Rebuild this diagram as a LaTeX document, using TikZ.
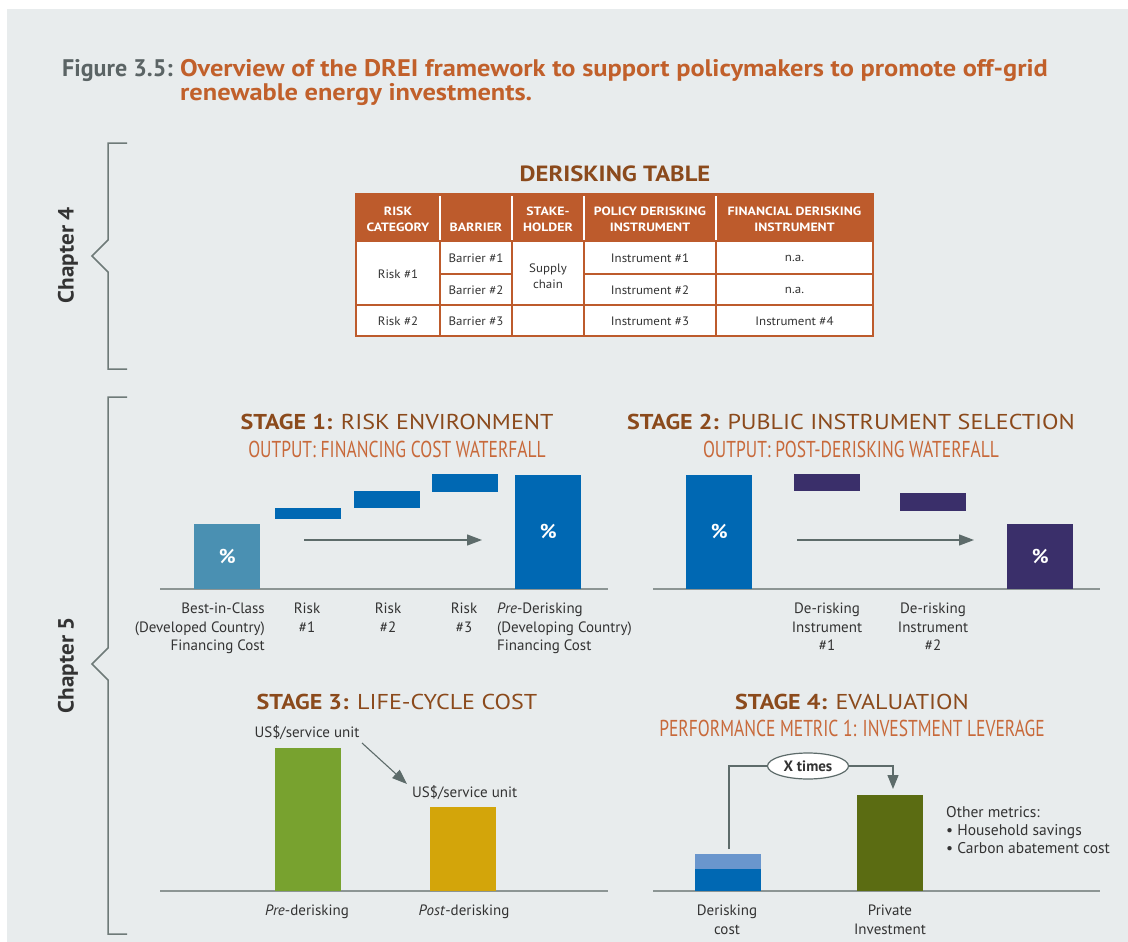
\documentclass[tikz,border=0pt]{standalone}
\usepackage{fontspec}
\usepackage{graphicx}
\setmainfont{PT Sans}
\newfontfamily\condfont[FakeStretch=0.76]{PT Sans}
\newfontfamily\widefont[FakeStretch=1.12]{PT Sans}
\newfontfamily\titlefont[FakeStretch=1.1]{PT Sans}
\newfontfamily\headfont[FakeStretch=1.15]{PT Sans}
\newfontfamily\cellfont[FakeStretch=1.06]{PT Sans}
\newfontfamily\chapfont[FakeStretch=1.05]{PT Sans}
\usetikzlibrary{arrows.meta,shapes.geometric}
\definecolor{bg}{HTML}{E8ECED}
\definecolor{titlegray}{HTML}{5B6465}
\definecolor{titleorange}{HTML}{C1602B}
\definecolor{stagebrown}{HTML}{8B4A1C}
\definecolor{suborange}{HTML}{C8693A}
\definecolor{taborange}{HTML}{BD5B2C}
\definecolor{txt}{HTML}{333333}
\definecolor{axisgray}{HTML}{8C9594}
\definecolor{arrowgray}{HTML}{5D6B6A}
\definecolor{brackgray}{HTML}{6E7A78}
\definecolor{teal}{HTML}{4A90B2}
\definecolor{dblue}{HTML}{0068B3}
\definecolor{purp}{HTML}{3A2F6A}
\definecolor{lgreen}{HTML}{78A22F}
\definecolor{yell}{HTML}{D3A50A}
\definecolor{olive}{HTML}{5B6C12}
\definecolor{lblue}{HTML}{6A96CD}
\begin{document}
\begin{tikzpicture}[x=1pt,y=-1pt,
  bar/.style={anchor=south west, inner sep=0pt, minimum width=66pt, text=white, font=\fontsize{20}{20}\selectfont\bfseries},
  lbl/.style={inner sep=0pt, text=txt, font=\fontsize{15}{18.5}\selectfont},
  stagehead/.style={anchor=base, inner sep=0pt, text=stagebrown, font=\widefont\fontsize{21.5}{25}\selectfont},
  subhead/.style={anchor=base, inner sep=0pt, text=suborange, font=\condfont\fontsize{23}{25}\selectfont},
  axis/.style={draw=axisgray, line width=2pt},
  grarrow/.style={draw=arrowgray, line width=1.3pt, -{Triangle[length=15pt,width=11pt]}},
  conn/.style={draw=arrowgray, line width=1.3pt},
  brack/.style={draw=brackgray, line width=1.5pt},
  thead/.style={inner sep=0pt, text=white, align=center, font=\headfont\fontsize{12}{15.5}\selectfont\bfseries},
  tcell/.style={inner sep=0pt, text=txt, align=center, font=\cellfont\fontsize{12.2}{16}\selectfont},
  tline/.style={draw=taborange, line width=1.6pt},
  ttl/.style={anchor=base west, inner sep=0pt, font=\titlefont\fontsize{24}{26}\selectfont\bfseries},
  chap/.style={rotate=90, inner sep=0pt, text=txt, font=\chapfont\fontsize{22}{22}\selectfont\bfseries}]
\useasboundingbox (0,0) rectangle (1128,942);
\fill[white] (0,0) rectangle (1128,942);
\fill[bg] (7,9) rectangle (1128,942);

% Title
\node[anchor=base west, inner sep=0pt, text=titlegray, font=\fontsize{24}{26}\selectfont\bfseries] (figlbl) at (62,77) {Figure 3.5:};
\node[ttl, text=titleorange] (figt1) at (180,77) {Overview of the DREI framework to support policymakers to promote off-grid};
\node[ttl, text=titleorange] (figt2) at (180,101) {renewable energy investments.};

% Brackets
\draw[brack] (127,143) -- (108,143) -- (108,240) -- (92,256) -- (108,272) -- (108,369) -- (127,369);
\draw[brack] (127,397) -- (108,397) -- (108,648) -- (92,664) -- (108,680) -- (108,934) -- (127,934);
\node[chap] (ch4) at (68,255) {Chapter 4};
\node[chap] (ch5) at (68,665) {Chapter 5};

% Derisking table
\node[anchor=base, inner sep=0pt, text=stagebrown, font=\widefont\fontsize{22}{24}\selectfont\bfseries] (dtt) at (615,181) {DERISKING TABLE};
\fill[taborange] (356,194) rectangle (873,242);
\fill[white] (356,242) rectangle (873,336);
\foreach \xx in {440,512,584,716} {\draw[white, line width=1.6pt] (\xx,196) -- (\xx,240);}
\foreach \xx in {440,512,584,716} {\draw[tline] (\xx,242) -- (\xx,336);}
\draw[tline] (356,305) -- (873,305);
\draw[tline] (440,274) -- (512,274);
\draw[tline] (584,274) -- (873,274);
\draw[tline] (356,194) rectangle (873,336);
\node[thead] (h1) at (398,219.5) {RISK\\CATEGORY};
\node[thead, anchor=base] (h2) at (476,231) {BARRIER};
\node[thead] (h3) at (548,219.5) {STAKE-\\HOLDER};
\node[thead] (h4) at (650,219.5) {POLICY DERISKING\\INSTRUMENT};
\node[thead] (h5) at (794.5,219.5) {FINANCIAL DERISKING\\INSTRUMENT};
\node[tcell] (c11) at (398,274) {Risk \#1};
\node[tcell] (c12) at (476,258) {Barrier \#1};
\node[tcell] (c22) at (476,290) {Barrier \#2};
\node[tcell] (c13) at (548,276) {Supply\\chain};
\node[tcell] (c14) at (650,258) {Instrument \#1};
\node[tcell] (c24) at (650,290) {Instrument \#2};
\node[tcell] (c15) at (794.5,258) {n.a.};
\node[tcell] (c25) at (794.5,290) {n.a.};
\node[tcell] (c31) at (398,321) {Risk \#2};
\node[tcell] (c32) at (476,321) {Barrier \#3};
\node[tcell] (c34) at (650,321) {Instrument \#3};
\node[tcell] (c35) at (794.5,321) {Instrument \#4};

% Stage 1
\node[stagehead] (s1h) at (397,429) {\textbf{STAGE 1:} RISK ENVIRONMENT};
\node[subhead] (s1s) at (397,457) {OUTPUT: FINANCING COST WATERFALL};
\draw[axis] (160,589) -- (608,589);
\node[bar, fill=teal, minimum height=65pt] (s1b0) at (194,589) {\%};
\node[bar, fill=dblue, minimum height=11pt] (s1r1) at (275,519) {};
\node[bar, fill=dblue, minimum height=17pt] (s1r2) at (354,508) {};
\node[bar, fill=dblue, minimum height=18pt] (s1r3) at (432,492) {};
\node[bar, fill=dblue, minimum height=114pt] (s1b4) at (515,589) {\%};
\coordinate (s1as) at (304,540);
\coordinate (s1ae) at (482,540);
\draw[grarrow] (s1as) -- (s1ae);
\node[lbl, anchor=north east, align=right] (s1l0) at (265,603) {Best-in-Class\\(Developed Country)\\Financing Cost};
\node[lbl, anchor=north, align=center] (s1l1) at (307,603) {Risk\\\#1};
\node[lbl, anchor=north, align=center] (s1l2) at (388,603) {Risk\\\#2};
\node[lbl, anchor=north, align=center] (s1l3) at (464,603) {Risk\\\#3};
\node[lbl, anchor=north west, align=left] (s1l4) at (497,603) {\textit{Pre}-Derisking\\(Developing Country)\\Financing Cost};

% Stage 2
\node[stagehead] (s2h) at (851,429) {\textbf{STAGE 2:} PUBLIC INSTRUMENT SELECTION};
\node[subhead] (s2s) at (851,457) {OUTPUT: POST-DERISKING WATERFALL};
\draw[axis] (653,589) -- (1100,589);
\node[bar, fill=dblue, minimum height=114pt] (s2b0) at (686,589) {\%};
\node[bar, fill=purp, minimum height=17pt] (s2i1) at (794,491) {};
\node[bar, fill=purp, minimum height=18pt] (s2i2) at (900,511) {};
\node[bar, fill=purp, minimum height=65pt] (s2b3) at (1007,589) {\%};
\coordinate (s2as) at (797,540);
\coordinate (s2ae) at (974,540);
\draw[grarrow] (s2as) -- (s2ae);
\node[lbl, anchor=north, align=center] (s2l1) at (827,603) {De-risking\\Instrument\\\#1};
\node[lbl, anchor=north, align=center] (s2l2) at (933,603) {De-risking\\Instrument\\\#2};

% Stage 3
\node[stagehead] (s3h) at (397,709) {\textbf{STAGE 3:} LIFE-CYCLE COST};
\draw[axis] (160,891) -- (608,891);
\node[bar, fill=lgreen, minimum height=143pt] (s3b1) at (275,891) {};
\node[bar, fill=yell, minimum height=84pt] (s3b2) at (430,891) {};
\node[lbl, anchor=base] (s3u1) at (307,737) {US\$/service unit};
\node[lbl, anchor=base west] (s3u2) at (412,797) {US\$/service unit};
\coordinate (s3as) at (362,743);
\coordinate (s3ae) at (407,784);
\draw[grarrow, line width=1.1pt] (s3as) -- (s3ae);
\node[lbl, anchor=base] (s3l1) at (307,915) {\textit{Pre}-derisking};
\node[lbl, anchor=base] (s3l2) at (464,915) {\textit{Post}-derisking};

% Stage 4
\node[stagehead] (s4h) at (852,709) {\textbf{STAGE 4:} EVALUATION};
\node[subhead] (s4s) at (852,736) {PERFORMANCE METRIC 1: INVESTMENT LEVERAGE};
\draw[axis] (653,891) -- (1100,891);
\node[bar, fill=dblue, minimum height=22pt] (s4d1) at (695,891) {};
\node[bar, fill=lblue, minimum height=15pt] (s4d2) at (695,869) {};
\node[bar, fill=olive, minimum height=96pt] (s4p) at (857,891) {};
\node[ellipse, draw=arrowgray, line width=1.2pt, fill=white, minimum width=81pt, minimum height=26pt, inner sep=0pt, text=txt, font=\fontsize{15}{15}\selectfont\bfseries] (xt) at (808,766) {X times};
\coordinate (s4cs) at (729,849);
\coordinate (s4ce) at (893,789);
\draw[conn] (s4cs) |- (xt.west);
\draw[conn, -{Triangle[length=14pt,width=11pt]}] (xt.east) -| (s4ce);
\node[lbl, anchor=north west, align=left, font=\fontsize{15.5}{18}\selectfont] (s4om) at (946,806) {Other metrics:\\\textbullet\ Household savings\\\textbullet\ Carbon abatement cost};
\node[lbl, anchor=north, align=center] (s4l1) at (727,905) {Derisking\\cost};
\node[lbl, anchor=north, align=center] (s4l2) at (890,905) {Private\\Investment};
\end{tikzpicture}
\end{document}
